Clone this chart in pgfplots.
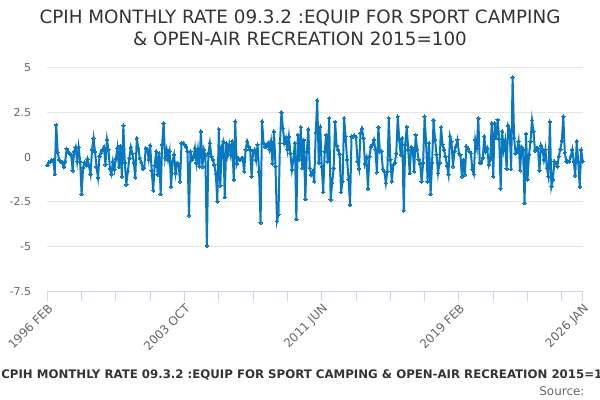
\documentclass[border=0pt]{standalone}
\usepackage{fontspec}
\setmainfont{DejaVu Sans}
\usepackage{pgfplots}
\usepackage{pgfplotstable}
\pgfplotsset{compat=1.18}
\definecolor{linec}{RGB}{8,120,193}
\definecolor{gridc}{HTML}{E6E6E6}
\definecolor{axisc}{HTML}{CCD6EB}
\definecolor{lab}{HTML}{666666}
\definecolor{ttl}{HTML}{333333}
\pgfplotstableread{
v
-0.45
-0.3
-0.25
-0.15
-0.2
-0.95
1.8
0.26
-0.15
-0.24
-0.3
-0.55
-0.24
0.45
0.3
0.22
0.13
-0.76
0.3
0.55
-0.24
0.55
-0.24
-2.06
-0.6
-0.3
-0.45
-0.11
-0.5
-0.95
0.41
1.05
0.3
-0.55
-1.13
0.05
0.22
0.4
0.55
-0.43
0.96
0.41
-0.65
-0.95
-0.24
-0.7
-0.1
0.5
-0.56
0.63
-1.08
1.76
-0.33
-1.54
-0.8
-0.06
0.55
0.2
-0.3
-1.13
1.05
0.5
-0.06
-0.3
-0.65
-0.61
0.5
0.44
-0.11
0.65
-0.74
-1.86
-0.48
0.32
-0.98
0.22
-2.06
0.69
1.89
-0.06
0.41
-0.15
0.32
-1.64
-0.24
0.13
-0.89
-0.33
-0.37
-1.36
0.78
0.78
0.69
0.59
0.32
-3.25
0.32
-0.15
-0.02
0.5
-0.33
0.41
-0.52
1.43
-0.55
0.41
0.1
-4.94
0.22
0.78
0.04
-0.15
-0.43
-0.95
-2.47
1.56
-1.6
0.6
0.87
-2.23
0.78
0.13
0.69
0.13
0.87
-1.26
1.99
-0.37
-0.06
-0.15
-0.09
-0.06
-0.8
0.41
0.87
0.59
0.41
-1.08
0.32
0.41
-0.15
0.69
-0.8
-3.66
1.99
0.78
0.59
0.59
0.78
0.41
0.87
-0.37
1.43
-0.52
-3.57
-3.21
0.78
2.5
1.61
0.78
1.06
0.41
1.15
0.22
-0.7
-0.15
0.78
-3.46
1.24
-0.15
1.67
-0.61
0.96
-2.34
0.3
1.56
-0.61
-0.98
-0.8
-1.36
1.37
3.16
-0.33
1.7
-0.52
-1.95
0.32
1.24
-0.24
2.17
-2.38
-1.45
-0.61
1.96
0.63
0.4
0.17
-1.95
-1.36
2.17
1.15
-0.15
-1.23
-2.66
1.15
1.15
1.19
1.11
-0.24
-0.65
1.34
1.58
1.06
-0.37
-0.06
-1.76
0.04
0.59
0.69
0.96
0.41
-0.85
1.67
0.32
0.32
-0.67
-0.8
-1.45
-0.8
2.17
-0.15
-1.36
-0.43
-0.33
0.22
2.26
0.96
0.13
1.06
-2.97
0.69
1.69
0.41
-0.89
0.56
0.5
-0.8
1.24
0.41
-0.15
-0.37
-1.36
-0.33
2.26
0.78
-1.36
0.78
-2.06
-0.33
2.06
0.96
0.13
-0.89
-0.33
1.67
0.69
0.41
0.04
-0.48
-0.98
1.17
0.87
-0.52
0.32
0.6
0.96
0.22
0.13
-1.08
-0.15
-0.98
0.59
0.5
0.32
0.22
-0.7
-0.95
0.96
0.5
2.17
-0.33
-0.33
-0.05
1.15
0.32
0.5
-0.43
-0.15
1.89
-1.08
1.89
1.05
2.08
1.0
-1.75
1.43
0.41
0.91
-0.65
1.74
1.52
-0.67
4.45
1.06
0.22
0.37
0.87
-0.74
0.56
0.41
-2.56
1.3
-1.26
0.13
0.87
2.06
1.43
0.37
0.5
0.5
-0.74
0.65
0.44
-0.15
0.41
-0.61
-1.08
1.97
-1.65
-1.26
-0.24
-0.33
-0.52
0.04
0.44
0.9
2.26
0.26
-0.24
-0.24
-0.24
0.04
0.41
-0.24
-1.04
0.89
-0.24
-1.65
0.41
-0.24
}\data
\begin{document}
\begin{tikzpicture}
\clip (0,0) rectangle (600bp,400bp);
\path[use as bounding box] (0,0) rectangle (600bp,400bp);
\begin{axis}[
  at={(47.3bp,108.3bp)}, anchor=south west,
  scale only axis, width=535.4bp, height=224.4bp,
  xmin=0, xmax=359, ymin=-7.5, ymax=5,
  ytick={-7.5,-5,-2.5,0,2.5,5},
  yticklabels={-7.5,-5,-2.5,0,2.5,5},
  ymajorgrids, grid style={gridc, line width=1bp},
  xtick={0,23,46,69,92,115,138,161,184,207,230,253,276,299,322,345,359},
  xticklabels={1996 FEB,,,,2003 OCT,,,,2011 JUN,,,,2019 FEB,,,,2026 JAN},
  xtick align=outside, major tick length=9bp,
  axis x line*=bottom, axis y line*=left,
  y axis line style={draw=none},
  x axis line style={axisc, line width=1bp},
  xtick style={axisc, line width=1bp},
  ytick style={draw=none},
  yticklabel style={font=\fontsize{11}{13}\selectfont, text=lab, anchor=east, inner sep=0pt, xshift=-16bp},
  xticklabel style={font=\fontsize{12}{14}\selectfont, text=lab, rotate=45, anchor=north east, inner sep=1.5bp},
  clip=false,
]
\addplot[linec, line width=2bp, mark=*, mark size=1.7bp, mark options={line width=0pt, fill=linec}] table[x expr=\coordindex, y=v] {\data};
\end{axis}
\node[anchor=base, font=\fontsize{18.4}{22}\selectfont, text=ttl] at (300bp,376.7bp) {CPIH MONTHLY RATE 09.3.2 :EQUIP FOR SPORT CAMPING};
\node[anchor=base, font=\fontsize{18.4}{22}\selectfont, text=ttl] at (300bp,354.3bp) {\& OPEN-AIR RECREATION 2015=100};
\node[anchor=base, font=\bfseries\fontsize{11.8}{15}\selectfont, text=ttl] at (310bp,21.7bp) {CPIH MONTHLY RATE 09.3.2 :EQUIP FOR SPORT CAMPING \& OPEN-AIR RECREATION 2015=100};
\node[anchor=base east, font=\fontsize{12}{14}\selectfont, text=lab] at (588bp,5bp) {Source:};
\end{tikzpicture}
\end{document}
